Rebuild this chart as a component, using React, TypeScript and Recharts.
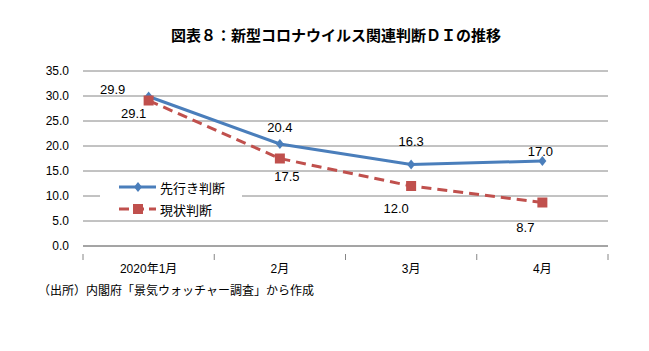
import { LineChart, Line, XAxis, YAxis, CartesianGrid, LabelList } from "recharts";

const categories = ["2020年1月", "2月", "3月", "4月"];
const outlook = [29.9, 20.4, 16.3, 17.0];
const current = [29.1, 17.5, 12.0, 8.7];
const yTicks = [0, 5, 10, 15, 20, 25, 30, 35];

const data = categories.map((month, i) => ({
  month,
  outlook: outlook[i],
  current: current[i],
}));

// label offsets (dx, dy) relative to each point
const outlookLabelOffset = [
  [-36, -6],
  [0, -15],
  [0, -22],
  [-2, -8],
];
const currentLabelOffset = [
  [-15, 14],
  [7, 19],
  [-15, 24],
  [-17, 26],
];

const BLUE = "#4a7ebb";
const RED = "#c0504d";
const FONT = "'Liberation Sans', 'Noto Sans CJK JP', sans-serif";
const BAND = 525 / 4;

const makeLabel = (offsets: number[][]) => (props: any) => {
  const { x, y, value, index } = props;
  const [dx, dy] = offsets[index];
  return (
    <text x={x + dx} y={y + dy} textAnchor="middle" dominantBaseline="middle" fontSize={13} fill="#000" fontFamily={FONT}>
      {Number(value).toFixed(1)}
    </text>
  );
};

const Diamond = (props: any) => {
  const { cx, cy } = props;
  if (cx == null) return null;
  return <path d={`M${cx},${cy - 5} L${cx + 4},${cy} L${cx},${cy + 5} L${cx - 4},${cy} Z`} fill={BLUE} />;
};

const Square = (props: any) => {
  const { cx, cy } = props;
  if (cx == null) return null;
  return <rect x={cx - 5} y={cy - 5} width={10} height={10} fill={RED} />;
};

const XTick = (props: any) => {
  const { x, y, payload, index } = props;
  return (
    <g>
      <line x1={x - BAND / 2} x2={x - BAND / 2} y1={y} y2={y + 6} stroke="#868686" />
      {index === categories.length - 1 && (
        <line x1={x + BAND / 2} x2={x + BAND / 2} y1={y} y2={y + 6} stroke="#868686" />
      )}
      <text x={x} y={y + 19} textAnchor="middle" fontSize={12} fill="#000" fontFamily={FONT}>
        {payload.value}
      </text>
    </g>
  );
};

const LegendBox = () => (
  <div
    style={{
      position: "absolute",
      left: 100,
      top: 176,
      background: "#fff",
      width: 124,
      paddingLeft: 18,
      fontFamily: FONT,
      fontSize: 13,
      color: "#000",
    }}
  >
    <div style={{ display: "flex", alignItems: "center", height: 22 }}>
      <svg width={40} height={12}>
        <line x1={1} x2={38} y1={6} y2={6} stroke={BLUE} strokeWidth={3} />
        <path d="M20,1 L24,6 L20,11 L16,6 Z" fill={BLUE} />
      </svg>
      <span style={{ marginLeft: 2 }}>先行き判断</span>
    </div>
    <div style={{ display: "flex", alignItems: "center", height: 22 }}>
      <svg width={40} height={12}>
        <line x1={1} x2={38} y1={6} y2={6} stroke={RED} strokeWidth={3} strokeDasharray="10 5" />
        <rect x={15} y={1} width={10} height={10} fill={RED} />
      </svg>
      <span style={{ marginLeft: 2 }}>現状判断</span>
    </div>
  </div>
);

export default function App() {
  return (
    <div style={{ position: "absolute", left: 0, top: 0, width: 649, height: 351, background: "#fff" }}>
      <div
        style={{
          position: "absolute",
          top: 24,
          left: 0,
          width: 672,
          textAlign: "center",
          fontFamily: "'Noto Sans CJK JP', sans-serif",
          fontWeight: "bold",
          fontSize: 15,
        }}
      >
        図表８：新型コロナウイルス関連判断ＤＩの推移
      </div>
      <LineChart width={649} height={351} data={data} margin={{ top: 71, right: 41, bottom: 75, left: 23 }}>
        <CartesianGrid vertical={false} stroke="#868686" />
        <XAxis
          dataKey="month"
          scale="band"
          stroke="#868686"
          tickLine={false}
          tick={<XTick />}
          height={30}
          interval={0}
        />
        <YAxis
          domain={[0, 35]}
          ticks={yTicks}
          interval={0}
          axisLine={false}
          tickLine={false}
          width={60}
          tickFormatter={(v: number) => v.toFixed(1)}
          tick={{ fontSize: 12, fill: "#000", fontFamily: FONT }}
          tickMargin={8}
        />
        <Line
          dataKey="outlook"
          name="先行き判断"
          stroke={BLUE}
          strokeWidth={3}
          dot={<Diamond />}
          isAnimationActive={false}
        >
          <LabelList dataKey="outlook" content={makeLabel(outlookLabelOffset)} />
        </Line>
        <Line
          dataKey="current"
          name="現状判断"
          stroke={RED}
          strokeWidth={3}
          strokeDasharray="10 6"
          dot={<Square />}
          isAnimationActive={false}
        >
          <LabelList dataKey="current" content={makeLabel(currentLabelOffset)} />
        </Line>
      </LineChart>
      <LegendBox />
      <div
        style={{
          position: "absolute",
          top: 281,
          left: 38,
          fontFamily: "'Noto Sans CJK JP', sans-serif",
          fontSize: 12,
        }}
      >
        （出所）内閣府「景気ウォッチャー調査」から作成
      </div>
    </div>
  );
}
